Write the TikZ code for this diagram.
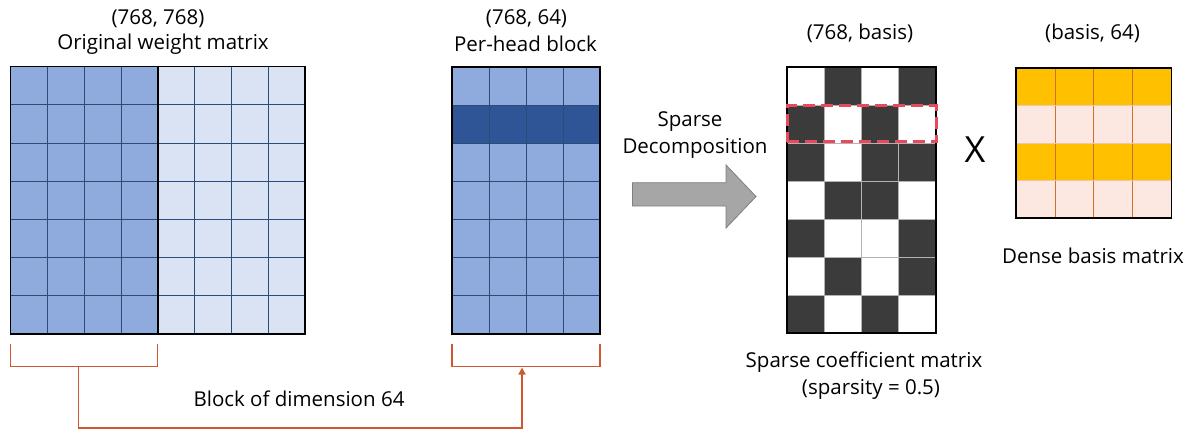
\documentclass[tikz,border=0pt]{standalone}
\usepackage{fontspec}
\setmainfont{Open Sans}
\usetikzlibrary{arrows.meta}
\definecolor{blueA}{HTML}{8FAADC}
\definecolor{blueB}{HTML}{DAE3F3}
\definecolor{blueC}{HTML}{2F5597}
\definecolor{gridB}{HTML}{2E4A78}
\definecolor{darkcell}{HTML}{3B3B3B}
\definecolor{orangeA}{HTML}{FFC000}
\definecolor{pinkA}{HTML}{FCE8E0}
\definecolor{gridO}{HTML}{D0702A}
\definecolor{redD}{HTML}{E8495C}
\definecolor{brk}{HTML}{D0582E}
\definecolor{arrfill}{HTML}{A6A6A6}
\definecolor{arrline}{HTML}{7F7F7F}
\tikzset{
  lbl/.style={font=\fontsize{20.5}{24}\selectfont, inner sep=0pt, text=black},
  frame/.style={draw=black, line width=1.6pt},
  bracket/.style={draw=brk, line width=1.4pt},
}
\begin{document}
\begin{tikzpicture}[x=1pt,y=-1pt]
\useasboundingbox (0,0) rectangle (1197,432);
\fill[white] (0,0) rectangle (1197,432);

% ---------- Original weight matrix ----------
\fill[blueA] (10.5,66.5) rectangle (157.7,334);
\fill[blueB] (157.7,66.5) rectangle (305,334);
\foreach \i in {1,...,7} \draw[gridB, line width=0.8pt] ({10.5+\i*36.81},66.5) -- ({10.5+\i*36.81},334);
\foreach \j in {1,...,6} \draw[gridB, line width=0.8pt] (10.5,{66.5+\j*38.21}) -- (305,{66.5+\j*38.21});
\draw[black, line width=1.6pt] (157.7,66.5) -- (157.7,334);
\node[frame, minimum width=294.5pt, minimum height=267.5pt, inner sep=0pt] (W) at (157.75,200.25) {};

% ---------- Per-head block ----------
\fill[blueA] (452,67) rectangle (600,334);
\fill[blueC] (452,105.1) rectangle (600,143.3);
\foreach \i in {1,...,3} \draw[gridB, line width=0.8pt] ({452+\i*37},67) -- ({452+\i*37},334);
\foreach \j in {1,...,6} \draw[gridB, line width=0.8pt] (452,{67+\j*38.14}) -- (600,{67+\j*38.14});
\node[frame, minimum width=148pt, minimum height=267pt, inner sep=0pt] (P) at (526,200.5) {};

% ---------- Sparse coefficient matrix ----------
\def\sx{787}\def\sy{67}\def\sw{37.25}\def\sh{38}
\foreach \r/\c in {0/1,0/3, 1/0,1/2, 2/0,2/2,2/3, 3/1,3/2, 4/0,4/3, 5/1,5/3, 6/0,6/2}
  \fill[darkcell] ({\sx+\c*\sw},{\sy+\r*\sh}) rectangle ({\sx+(\c+1)*\sw},{\sy+(\r+1)*\sh});
\foreach \i in {1,...,3} \draw[gray!60, line width=0.8pt] ({\sx+\i*\sw},67) -- ({\sx+\i*\sw},333);
\foreach \j in {1,...,6} \draw[gray!60, line width=0.8pt] (787,{67+\j*\sh}) -- (936,{67+\j*\sh});
\node[frame, minimum width=149pt, minimum height=266pt, inner sep=0pt] (S) at (861.5,200) {};
\node[draw=redD, line width=3pt, dash pattern=on 12pt off 6pt, minimum width=149pt, minimum height=36pt, inner sep=0pt] (R) at (861.5,123.5) {};

% ---------- Dense basis matrix ----------
\fill[orangeA] (1016,68) rectangle (1171.5,105.5);
\fill[pinkA] (1016,105.5) rectangle (1171.5,143);
\fill[orangeA] (1016,143) rectangle (1171.5,180.5);
\fill[pinkA] (1016,180.5) rectangle (1171.5,218);
\foreach \i in {1,...,3} \draw[gridO, line width=0.7pt] ({1016+\i*38.9},68) -- ({1016+\i*38.9},218);
\foreach \j in {1,...,3} \draw[gridO!40, line width=0.5pt] (1016,{68+\j*37.5}) -- (1171.5,{68+\j*37.5});
\node[frame, minimum width=155.5pt, minimum height=150pt, inner sep=0pt] (D) at (1093.75,143) {};

% ---------- Block arrow ----------
\draw[arrline, fill=arrfill, line width=0.8pt]
  (632.5,182.7) -- (726,182.7) -- (726,165) -- (756,196.5) -- (726,228) -- (726,206) -- (632.5,206) -- cycle;

% ---------- Labels ----------
\node[lbl] (t1) at (158,19) {(768, 768)};
\node[lbl] (t2) at (163,44) {Original weight matrix};
\node[lbl] (t3) at (526.5,19) {(768, 64)};
\node[lbl] (t4) at (525.5,44) {Per-head block};
\node[lbl] (t5) at (860,33) {(768, basis)};
\node[lbl] (t6) at (1092.5,33) {(basis, 64)};
\node[lbl] (t7) at (690,122) {Sparse};
\node[lbl] (t8) at (695,148) {Decomposition};
\node[lbl, font=\fontsize{36}{40}\selectfont] (x) at (975,150) {X};
\node[lbl] (t9) at (1093,256) {Dense basis matrix};
\node[lbl] (t10) at (864,362) {Sparse coefficient matrix};
\node[lbl] (t11) at (871,389) {(sparsity = 0.5)};
\node[lbl] (t12) at (299,399) {Block of dimension 64};

% ---------- Brackets ----------
\draw[bracket] (10.5,344) -- (10.5,366.5) -- (157.7,366.5) -- (157.7,344);
\draw[bracket] (452,344) -- (452,366.5) -- (600,366.5) -- (600,344);
\coordinate (lb) at (78.6,366.5);
\coordinate (rb) at (522,367.5);
\draw[bracket, -{Triangle[length=7pt,width=7pt]}] (lb) -- (78.6,428) -| (rb);
\end{tikzpicture}
\end{document}
